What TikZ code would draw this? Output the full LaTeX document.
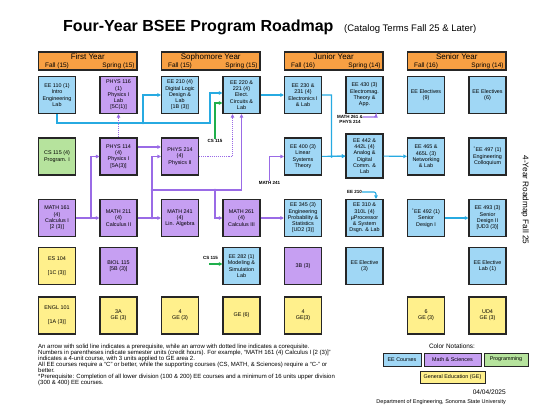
\documentclass[tikz,border=0pt]{standalone}
\usepackage{fontspec}
\setmainfont{Liberation Sans}
\usetikzlibrary{arrows.meta}

\definecolor{eeblue}{HTML}{A0D7F5}
\definecolor{mathpurple}{HTML}{C69FF2}
\definecolor{proggreen}{HTML}{B6E39D}
\definecolor{geyellow}{HTML}{FFF08C}
\definecolor{yearorange}{HTML}{F8A043}
\definecolor{eeline}{HTML}{27AAE1}
\definecolor{mathline}{HTML}{9A6BE6}
\definecolor{progline}{HTML}{1FAF4B}

\begin{document}
\begin{tikzpicture}[x=1pt, y=-1pt,
                    box/.style={draw=black!85, line width=1.1pt, minimum width=37pt, minimum height=37pt,
                                inner sep=0pt, align=center, font=\fontsize{5.4}{6.3}\selectfont},
                    eebox/.style={box, fill=eeblue},
                    mathbox/.style={box, fill=mathpurple},
                    progbox/.style={box, fill=proggreen},
                    gebox/.style={box, fill=geyellow},
                    yearbox/.style={draw=black!85, line width=1.1pt, fill=yearorange, minimum width=98.5pt,
                                    minimum height=18pt, inner sep=0pt},
                    yeartext/.style={font=\fontsize{8}{9}\selectfont, inner sep=0pt},
                    termtext/.style={font=\fontsize{6.5}{7}\selectfont, inner sep=0pt},
                    eearrow/.style={draw=eeline, line width=1.1pt, -{Triangle[length=3.6pt,width=3.6pt]}},
                    matharrow/.style={draw=mathline, line width=1.1pt, -{Triangle[length=3.6pt,width=3.6pt]}},
                    progarrow/.style={draw=progline, line width=1.1pt, -{Triangle[length=3.6pt,width=3.6pt]}},
                    reqtext/.style={font=\fontsize{4.5}{5.5}\selectfont\bfseries, inner sep=0pt, align=center},
                    legbox/.style={draw=black!85, line width=0.9pt, minimum height=13pt, inner sep=0pt,
                                   font=\fontsize{5.4}{6}\selectfont}]
  \useasboundingbox (0,0) rectangle (540,417);

  \node[anchor=base west, inner sep=0pt, font=\fontsize{16}{18}\selectfont\bfseries] (title) at (63,32)
    {Four-Year BSEE Program Roadmap};
  \node[anchor=base west, inner sep=0pt, font=\fontsize{9.5}{11}\selectfont] (subtitle) at (344,32)
    {(Catalog Terms Fall 25 \& Later)};
  \node[rotate=-90, font=\fontsize{8.2}{9}\selectfont] (side) at (525,200) {4-Year Roadmap Fall 25};

  \node[yearbox] (y1) at (87.75,61) {};
  \node[yeartext] (y1t) at (87.75,57) {First Year};
  \node[termtext] (y1f) at (57,65.5) {Fall (15)};
  \node[termtext] (y1s) at (118.5,65.5) {Spring (15)};
  \node[yearbox] (y2) at (210.75,61) {};
  \node[yeartext] (y2t) at (210.75,57) {Sophomore Year};
  \node[termtext] (y2f) at (180,65.5) {Fall (15)};
  \node[termtext] (y2s) at (241.5,65.5) {Spring (15)};
  \node[yearbox] (y3) at (333.75,61) {};
  \node[yeartext] (y3t) at (333.75,57) {Junior Year};
  \node[termtext] (y3f) at (303,65.5) {Fall (16)};
  \node[termtext] (y3s) at (364.5,65.5) {Spring (14)};
  \node[yearbox] (y4) at (456.75,61) {};
  \node[yeartext] (y4t) at (456.75,57) {Senior Year};
  \node[termtext] (y4f) at (426,65.5) {Fall (16)};
  \node[termtext] (y4s) at (487.5,65.5) {Spring (14)};

  \node[eebox] (ee110) at (57,95) {EE 110 (1)\\Intro\\Engineering\\Lab};
  \node[mathbox] (phys116) at (118.5,95) {PHYS 116\\(1)\\Physics I\\Lab\\{[5C(1)]}};
  \node[eebox] (ee210) at (180,95) {EE 210 (4)\\Digital Logic\\Design \&\\Lab\\{[1B (3)]}};
  \node[eebox] (ee220) at (241.5,95) {EE 220 \&\\221 (4)\\Elect.\\Circuits \&\\Lab};
  \node[eebox] (ee230) at (303,95) {EE 230 \&\\231 (4)\\Electronics I\\\& Lab};
  \node[eebox] (ee430) at (364.5,95) {EE 430 (3)\\Electromag.\\Theory \&\\App.};
  \node[eebox] (elec9) at (426,95) {EE Electives\\(9)};
  \node[eebox] (elec6) at (487.5,95) {EE Electives\\(6)};

  \node[progbox] (cs115) at (57,156.5) {CS 115 (4)\\Program. I};
  \node[mathbox] (phys114) at (118.5,156.5) {PHYS 114\\(4)\\Physics I\\{[5A(3)]}};
  \node[mathbox] (phys214) at (180,156.5) {PHYS 214\\(4)\\Physics II};
  \node[eebox] (ee400) at (303,156.5) {EE 400 (3)\\Linear\\Systems\\Theory};
  \node[eebox, minimum height=44pt] (ee442) at (364.5,156) {EE 442 \&\\442L (4)\\Analog \&\\Digital\\Comm. \&\\Lab};
  \node[eebox] (ee465) at (426,156.5) {EE 465 \&\\465L (3)\\Networking\\\& Lab};
  \node[eebox] (ee497) at (487.5,156.5) {\textsuperscript{*}EE 497 (1)\\Engineering\\Colloquium};

  \node[mathbox] (math161) at (57,218) {MATH 161\\(4)\\Calculus I\\{[2 (3)]}};
  \node[mathbox] (math211) at (118.5,218) {MATH 211\\(4)\\Calculus II};
  \node[mathbox] (math241) at (180,218) {MATH 241\\(4)\\Lin. Algebra};
  \node[mathbox] (math261) at (241.5,218) {MATH 261\\(4)\\Calculus III};
  \node[eebox] (ee345) at (303,218) {EE 345 (3)\\Engineering\\Probability \&\\Statistics\\{[UD2 (3)]}};
  \node[eebox] (ee310) at (364.5,218) {EE 310 \&\\310L (4)\\µProcessor\\\& System\\Dsgn. \& Lab};
  \node[eebox] (ee492) at (426,218) {\textsuperscript{*}EE 492 (1)\\Senior\\Design I};
  \node[eebox] (ee493) at (487.5,218) {EE 493 (3)\\Senior\\Design II\\{[UD3 (3)]}};

  \node[gebox] (es104) at (57,266) {ES 104\\[7.5pt]{[1C (3)]}};
  \node[mathbox] (biol115) at (118.5,266) {BIOL 115\\{[5B (3)]}};
  \node[eebox] (ee282) at (241.5,266) {EE 282 (1)\\Modeling \&\\Simulation\\Lab};
  \node[mathbox] (sci3b) at (303,266) {3B (3)};
  \node[eebox] (elec3) at (364.5,266) {EE Elective\\(3)};
  \node[eebox] (eelab) at (487.5,266) {EE Elective\\Lab (1)};

  \node[gebox] (engl101) at (57,315.5) {ENGL 101\\[7.5pt]{[1A (3)]}};
  \node[gebox] (ge3a) at (118.5,315.5) {3A\\GE (3)};
  \node[gebox] (ge4) at (180,315.5) {4\\GE (3)};
  \node[gebox] (ge6) at (241.5,315.5) {GE (6)};
  \node[gebox] (ge4b) at (303,315.5) {4\\GE(3)};
  \node[gebox] (ge6b) at (426,315.5) {6\\GE (3)};
  \node[gebox] (geud4) at (487.5,315.5) {UD4\\GE (3)};

  \node[reqtext] (cs1) at (215,140.5) {CS 115};
  \node[reqtext] (cs2) at (210.5,258) {CS 115};
  \node[reqtext] (m241) at (269.5,183) {MATH 241};
  \node[reqtext] (mp) at (350,119.5) {MATH 261 \&\\PHYS 214};
  \node[reqtext] (e210) at (354.5,192) {EE 210};

  \coordinate (b1) at (143,123);
  \coordinate (b2) at (331.5,156.5);
  \coordinate (p1) at (91,218);
  \coordinate (p2) at (152,218);
  \coordinate (p3) at (152,190);
  \coordinate (p4) at (215,190);
  \coordinate (g1) at (209,264);

  \draw[eearrow] (ee110.south) |- (210,123) |- ([yshift=2pt]ee220.west);
  \draw[eearrow] (b1) |- (ee210.west);
  \draw[eearrow] (ee220) -- (ee230);
  \draw[eearrow] (ee230.east) -| (b2) -- (ee442.west);
  \draw[eearrow] (ee400) -- (ee442);
  \draw[eearrow] (ee442) -- (ee465);
  \draw[eearrow] (ee492) -- (ee493);
  \draw[eearrow, rounded corners=2pt] (e210.east) -| ([xshift=11.5pt]ee310.north);
  \fill[eeline] (b1) circle (1.4pt) (b2) circle (1.4pt);

  \draw[matharrow, densely dotted] (phys114) -- (phys116);
  \draw[matharrow] ([yshift=9.5pt]phys114.east) -- ([yshift=9.5pt]phys214.west);
  \draw[matharrow] (math161) -- (math211);
  \draw[matharrow] (p1) |- (phys114.west);
  \draw[matharrow] (math211) -- (math241);
  \draw[matharrow] (p2) |- (phys214.west);
  \draw[matharrow] (p3) -| (ee220.south);
  \draw[matharrow] (p4) |- (math261.west);
  \draw[matharrow, densely dotted] (phys214.east) -| ([xshift=-9pt]ee220.south);
  \draw[matharrow] (math261) -- (ee345);
  \draw[matharrow] (m241.north) |- (ee400.west);
  \draw[matharrow, rounded corners=2pt] ([yshift=2.5pt]mp.east) -| ([xshift=11.5pt]ee430.south);
  \fill[mathline] (p1) circle (1.4pt) (p2) circle (1.4pt) (p3) circle (1.4pt) (p4) circle (1.4pt);

  \draw[progarrow] (cs1.north) |- ([yshift=-8pt]ee220.west);
  \draw[progarrow] (g1) -- (g1 -| ee282.west);

  \node[anchor=north west, inner sep=0pt, align=left, font=\fontsize{6}{6}\selectfont] (notes) at (38,343.5)
    {An arrow with solid line indicates a prerequisite, while an arrow with dotted line indicates a corequisite.\\
     Numbers in parentheses indicate semester units (credit hours). For example, ``MATH 161 (4) Calculus I [2 (3)]''\\
     indicates a 4-unit course, with 3 units applied to GE area 2.\\
     All EE courses require a ``C'' or better, while the supporting courses (CS, MATH, \& Sciences) require a ``C-'' or\\
     better.\\
     *Prerequisite: Completion of all lower division (100 \& 200) EE courses and a minimum of 16 units upper division\\
     (300 \& 400) EE courses.};

  \node[font=\fontsize{6.4}{7}\selectfont] (legtitle) at (452,346) {Color Notations:};
  \node[legbox, fill=eeblue, minimum width=38pt] (legee) at (402,359.5) {EE Courses};
  \node[legbox, fill=mathpurple, minimum width=57pt] (legmath) at (452.5,359.5) {Math \& Sciences};
  \node[legbox, fill=proggreen, minimum width=44pt] (legprog) at (506,359.5) {Programming};
  \node[legbox, fill=geyellow, minimum width=65pt, minimum height=12pt] (legge) at (452.5,377) {General Education (GE)};
  \node[anchor=base east, inner sep=0pt, font=\fontsize{6.6}{7}\selectfont] (date) at (506,394.5) {04/04/2025};
  \node[anchor=base east, inner sep=0pt, font=\fontsize{5.5}{6}\selectfont] (dept) at (506,403)
    {Department of Engineering, Sonoma State University};
\end{tikzpicture}
\end{document}
